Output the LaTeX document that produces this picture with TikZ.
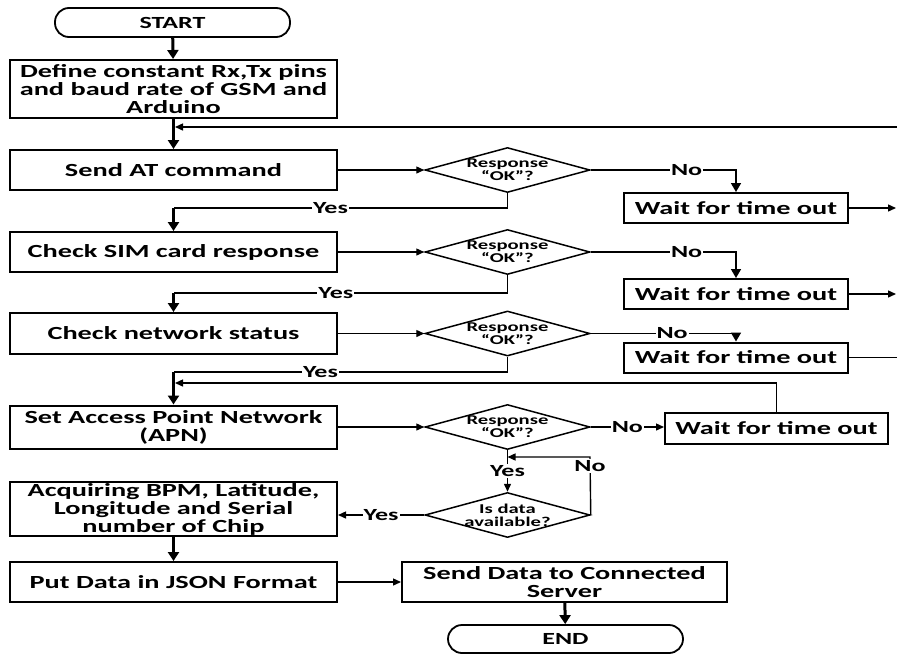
\documentclass[tikz,border=0pt]{standalone}
\usepackage{fontspec}
\setmainfont{Carlito}[FakeStretch=1.53]
\usetikzlibrary{shapes.geometric,arrows.meta,calc}
\begin{document}
\begin{tikzpicture}[x=1pt,y=-1pt,
  box/.style={draw,line width=2pt,minimum width=327pt,align=center,inner sep=0pt,
    font=\fontsize{18.5}{18}\selectfont\bfseries},
  term/.style={draw,line width=1.8pt,rounded corners=14pt,minimum width=235pt,
    minimum height=29pt,inner sep=0pt,font=\fontsize{17}{17}\selectfont\bfseries},
  waitbox/.style={draw,line width=2pt,minimum width=224pt,minimum height=30pt,
    inner sep=0pt,font=\fontsize{18.5}{18}\selectfont\bfseries},
  dec/.style={diamond,draw,line width=1.5pt,minimum width=165pt,minimum height=45pt,inner sep=0pt},
  dtext/.style={align=center,inner sep=0pt,font=\fontsize{13.5}{13}\selectfont\bfseries},
  lbl/.style={fill=white,inner sep=1pt,font=\fontsize{17}{17}\selectfont\bfseries},
  conn/.style={line width=1.4pt},
  arr/.style={conn,-{Triangle[length=8pt,width=7pt]}},
  noarr/.style={line width=1.6pt,-{Triangle[length=9pt,width=10pt]}},
  bigarr/.style={line width=3pt,-{Triangle[length=9pt,width=11pt]}},
]
\useasboundingbox (0,0) rectangle (897,654);

% main column
\node[term] (start) at (172.5,22.5) {START};
\node[box,minimum height=58pt] (def) at (173.5,89) {Define constant Rx,Tx pins\\and baud rate of GSM and\\Arduino};
\node[box,minimum height=40pt] (send) at (173.5,170) {Send AT command};
\node[box,minimum height=40pt] (sim) at (173.5,252) {Check SIM card response};
\node[box,minimum height=41pt] (net) at (173.5,333.5) {Check network status};
\node[box,minimum height=43pt] (apn) at (173.5,427) {Set Access Point Network\\(APN)};
\node[box,minimum height=54pt] (acq) at (173.5,509) {Acquiring BPM, Latitude,\\Longitude and Serial\\number of Chip};
\node[box,minimum height=40pt] (json) at (173.5,582) {Put Data in JSON Format};
\node[box,minimum width=325pt,minimum height=40pt] (srv) at (564.5,582) {Send Data to Connected\\Server};
\node[term,minimum height=28pt] (end) at (565.5,639) {END};

% decisions
\node[dec] (d1) at (507.5,170) {};
\node[dtext] (d1t) at (d1) {Response\\“OK”?};
\node[dec] (d2) at (507.5,252) {};
\node[dtext] (d2t) at (d2) {Response\\“OK”?};
\node[dec] (d3) at (507.5,333.5) {};
\node[dtext] (d3t) at (d3) {Response\\“OK”?};
\node[dec] (d4) at (507.5,427) {};
\node[dtext] (d4t) at (d4) {Response\\“OK”?};
\node[dec] (d5) at (507.5,515) {};
\node[dtext] (d5t) at (d5) {Is data\\available?};

% time-out boxes
\node[waitbox] (w1) at (736,208) {Wait for time out};
\node[waitbox] (w2) at (736,294) {Wait for time out};
\node[waitbox] (w3) at (736,357.5) {Wait for time out};
\node[waitbox,minimum width=223pt,minimum height=31pt] (w4) at (776.5,428.5) {Wait for time out};

% helper points
\coordinate (e0) at (897,127);
\coordinate (m0) at (175,127);
\coordinate (y1) at (173.5,208);
\coordinate (y2) at (173.5,293);
\coordinate (y3) at (173.5,372);
\coordinate (e1) at (896,208);
\coordinate (e2) at (896,294);
\coordinate (e3) at (897,357.5);
\coordinate (m4) at (175,383);
\coordinate (n5) at (590,457);

% main flow
\draw[bigarr] (start) -- (def);
\draw[bigarr] (def) -- (send);
\draw[arr] (e0) -- (m0);

\draw[arr] (send) -- (d1);
\draw[conn] (d1.south) |- node[lbl,pos=0.765]{Yes} (y1);
\draw[bigarr] (y1) -- (sim.north);
\draw[noarr] (d1.east) -| node[lbl,pos=0.33]{No} (w1.north);
\draw[arr] (w1.east) -- (e1);

\draw[arr] (sim) -- (d2);
\draw[conn] (d2.south) |- node[lbl,pos=0.757]{Yes} (y2);
\draw[bigarr] (y2) -- (net.north);
\draw[noarr] (d2.east) -| node[lbl,pos=0.33]{No} (w2.north);
\draw[arr] (w2.east) -- (e2);

\draw[arr] (net) -- (d3);
\draw[conn] (d3.south) |- node[lbl,pos=0.78]{Yes} (y3);
\draw[bigarr] (y3) -- (apn.north);
\draw[noarr] (d3.east) -| node[lbl,pos=0.28]{No} (w3.north);
\draw[conn] (w3.east) -- (e3);

\draw[arr] (apn) -- (d4);
\draw[arr] (d4.east) -- node[lbl]{No} (d4.east -| w4.west);
\draw[arr] (w4.north) |- (m4);
\draw[arr] (d4.south) -- node[lbl]{Yes} (d5.north);
\draw[arr] (d5.east) -- (n5) -- (d4.south |- n5);
\node[lbl] (no5) at (590,466) {No};
\draw[arr] (d5.west) -- node[lbl]{Yes} (d5.west -| acq.east);

\draw[bigarr] (acq) -- (json);
\draw[arr] (json) -- (srv);
\draw[bigarr] (srv) -- (end);
\end{tikzpicture}
\end{document}
